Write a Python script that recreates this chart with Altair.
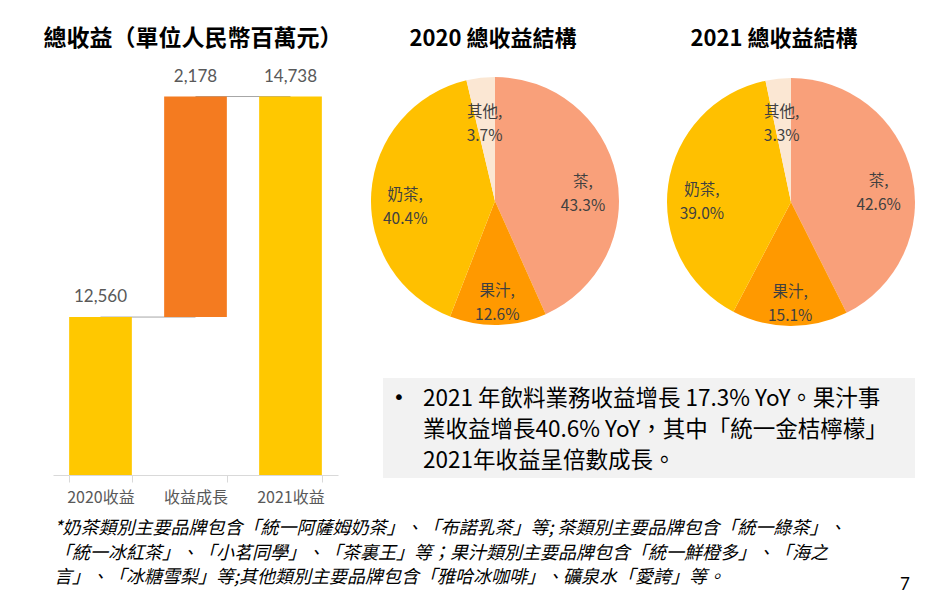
import altair as alt
import pandas as pd

# ---- data ---------------------------------------------------------------
# total revenue waterfall, RMB millions
bar_cats = ["2020收益", "收益成長", "2021收益"]
bar_values = [12560, 2178, 14738]
bar_kinds = ["total", "delta", "total"]

# revenue mix by product category, %
pie_cats = ["茶", "果汁", "奶茶", "其他"]
mix_2020 = [43.3, 12.6, 40.4, 3.7]
mix_2021 = [42.6, 15.1, 39.0, 3.3]

titles = ["總收益（單位人民幣百萬元）", "2020 總收益結構", "2021 總收益結構"]

note_lines = [
    "2021 年飲料業務收益增長 17.3% YoY。果汁事",
    "業收益增長40.6% YoY，其中「統一金桔檸檬」",
    "2021年收益呈倍數成長。",
]

footnote_lines = [
    "*奶茶類別主要品牌包含「統一阿薩姆奶茶」、「布諾乳茶」等; 茶類別主要品牌包含「統一綠茶」、",
    "「統一冰紅茶」、「小茗同學」、「茶裏王」等；果汁類別主要品牌包含「統一鮮橙多」、「海之",
    "言」、「冰糖雪梨」等;其他類別主要品牌包含「雅哈冰咖啡」、礦泉水「愛誇」等。",
]

page_no = "7"

# ---- styles -------------------------------------------------------------
CJK = "'Noto Sans CJK TC', 'Noto Sans CJK SC', sans-serif"
NUM = "Lato, 'Noto Sans CJK TC', sans-serif"
GREY = "#595959"
bar_colors = {"total": "#FFC800", "delta": "#F47B20"}
pie_colors = ["#F9A07A", "#FF9900", "#FFC000", "#FBE7D3"]

# ---- waterfall table ----------------------------------------------------
rows, running = [], 0
for cat, v, kind in zip(bar_cats, bar_values, bar_kinds):
    if kind == "total":
        start, end = 0, v
    else:
        start, end = running, running + v
    running = end
    rows.append({"cat": cat, "value": v, "kind": kind, "start": start, "end": end})
bars = pd.DataFrame(rows)
bars["label"] = bars["value"].map(lambda n: f"{n:,}")

# connector segments joining the top of each bar to the next one
seg_rows = []
for i in range(len(bars) - 1):
    level = bars.loc[i, "end"]
    seg_rows.append({"seg": i, "cat": bars.loc[i, "cat"], "level": level})
    seg_rows.append({"seg": i, "cat": bars.loc[i + 1, "cat"], "level": level})
segs = pd.DataFrame(seg_rows)

x_scale = alt.Scale(type="band", domain=bar_cats, range=[53, 338],
                    paddingInner=0.34, paddingOuter=0.17)
y_scale = alt.Scale(domain=[11000, 15000], range=[475, 70],
                    clamp=True, zero=False, nice=False)
x_axis = alt.Axis(title=None, orient="bottom", offset=-121, labelAngle=0,
                  labelFont=CJK, labelFontSize=16, labelColor=GREY,
                  labelPadding=7, tickSize=7, tickColor="#D9D9D9",
                  domainColor="#D9D9D9", tickBand="extent", grid=False)

connectors = alt.Chart(segs).mark_line(color="#A6A6A6", strokeWidth=1).encode(
    x=alt.X("cat:N", scale=x_scale, axis=x_axis, sort=bar_cats),
    y=alt.Y("level:Q", scale=y_scale, axis=None),
    detail="seg:N",
)

bar_layer = alt.Chart(bars).mark_bar().encode(
    x=alt.X("cat:N", scale=x_scale, axis=x_axis, sort=bar_cats),
    y=alt.Y("start:Q", scale=y_scale, axis=None),
    y2="end:Q",
    color=alt.Color("kind:N", legend=None,
                    scale=alt.Scale(domain=list(bar_colors), range=list(bar_colors.values()))),
)

bar_labels = alt.Chart(bars).mark_text(
    font=NUM, fontSize=17, color=GREY, dy=-20, baseline="middle"
).encode(
    x=alt.X("cat:N", scale=x_scale, axis=x_axis, sort=bar_cats),
    y=alt.Y("end:Q", scale=y_scale, axis=None),
    text="label:N",
)


# ---- pies ---------------------------------------------------------------
def pie(values, cx, cy):
    df = pd.DataFrame({"cat": pie_cats, "v": values, "idx": range(len(pie_cats))})
    base = alt.Chart(df).transform_calculate(
        label="datum.cat + ',\\n' + format(datum.v, '.1f') + '%'"
    ).encode(
        theta=alt.Theta("v:Q", stack=True),
        order=alt.Order("idx:Q"),
        x=alt.value(cx),
        y=alt.value(cy),
    )
    arcs = base.mark_arc(outerRadius=124).encode(
        color=alt.Color("cat:N", legend=None,
                        scale=alt.Scale(domain=pie_cats, range=pie_colors)),
    )
    labels = base.mark_text(
        radius=90, font=CJK, fontSize=15.5, color="#404040",
        lineBreak="\n", lineHeight=24, baseline="middle", align="center",
    ).encode(text="label:N")
    return [arcs, labels]


def text_block(txt, x, y, **kw):
    return alt.Chart(pd.DataFrame({"t": [txt]})).mark_text(**kw).encode(
        text="t:N", x=alt.value(x), y=alt.value(y)
    )


title_style = dict(font=CJK, fontWeight="bold", color="#000000",
                   align="center", baseline="middle")
title_layers = [
    text_block(titles[0], 193, 39, fontSize=23, **title_style),
    text_block(titles[1], 493, 39, fontSize=22, **title_style),
    text_block(titles[2], 774, 39, fontSize=22, **title_style),
]

note_box = alt.Chart(pd.DataFrame({"a": [0]})).mark_rect(color="#F2F2F2").encode(
    x=alt.value(383), x2=alt.value(915), y=alt.value(378), y2=alt.value(478)
)
bullet = text_block("•", 399, 398, font="'DejaVu Sans', sans-serif", fontSize=20,
                    color="#000000", align="center", baseline="middle")
note = text_block("\n".join(note_lines), 423, 388, font=CJK, fontSize=22.5,
                  color="#000000", align="left", baseline="top",
                  lineBreak="\n", lineHeight=31)
footnote = text_block("\n".join(footnote_lines), 54, 520, font=CJK, fontSize=18,
                      fontStyle="italic", color="#000000", align="left",
                      baseline="top", lineBreak="\n", lineHeight=24.5)
page = text_block(page_no, 905, 585, font=NUM, fontSize=17, color="#000000",
                  align="center", baseline="middle")

chart = alt.layer(
    connectors, bar_layer, bar_labels,
    *pie(mix_2020, 495, 201),
    *pie(mix_2021, 791, 202),
    *title_layers,
    note_box, bullet, note, footnote, page,
).resolve_scale(
    color="independent", theta="independent"
).properties(
    width=952, height=596, padding=0, autosize="none", background="#FFFFFF"
).configure_view(stroke=None)

chart.save("out.html", embed_options={"renderer": "svg", "actions": False})
